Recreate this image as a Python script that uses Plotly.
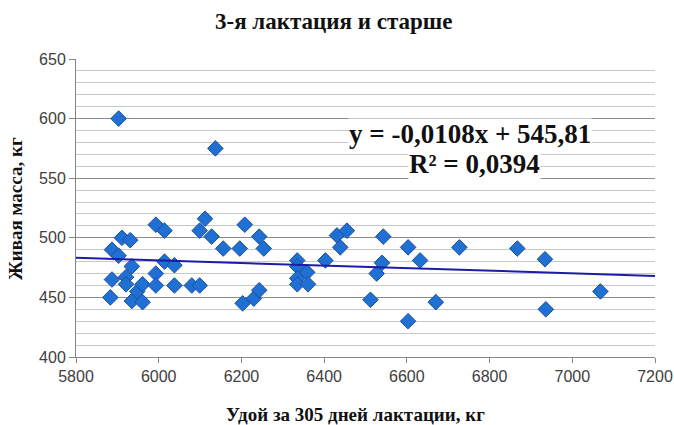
import plotly.graph_objects as go

milk_yield = [5903, 6137, 5887, 5911, 5931, 5903, 5887, 5883, 5921, 5921,
              5935, 5935, 5948, 5961, 5961, 5993, 6014, 5993, 5993, 6014,
              6038, 6038, 6080, 6099, 6099, 6112, 6128, 6156, 6196, 6208,
              6203, 6243, 6254, 6230, 6243, 6335, 6335, 6359, 6335, 6335,
              6361, 6403, 6431, 6455, 6439, 6512, 6543, 6540, 6527, 6603,
              6632, 6603, 6670, 6727, 6867, 6934, 7068, 6936]
live_weight = [600, 575, 490, 500, 498, 485, 465, 450, 467, 461,
               476, 447, 455, 461, 446, 511, 506, 470, 460, 480,
               477, 460, 460, 460, 506, 516, 501, 491, 491, 511,
               445, 501, 491, 449, 456, 481, 476, 471, 466, 461,
               461, 481, 502, 506, 492, 448, 501, 479, 470, 492,
               481, 430, 446, 492, 491, 482, 455, 440]

slope, intercept = -0.0108, 545.81
trend_x = [5800, 7200]
trend_y = [slope * v + intercept for v in trend_x]

x_ticks = [5800, 6000, 6200, 6400, 6600, 6800, 7000, 7200]
y_ticks = [400, 450, 500, 550, 600, 650]

serif = "Liberation Serif"
sans = "Liberation Sans"

W, H = 674, 425
L, R, T, B = 76, 19, 59, 68
pw, ph = W - L - R, H - T - B


def px_x(p):
    return (p - L) / pw


def px_y(p):
    return 1 - (p - T) / ph


fig = go.Figure()
fig.add_trace(go.Scatter(
    x=milk_yield, y=live_weight, mode="markers",
    marker=dict(symbol="diamond", size=12, color="#1f70d2",
                line=dict(color="#1d4f9e", width=1)),
    showlegend=False, cliponaxis=False))
fig.add_trace(go.Scatter(
    x=trend_x, y=trend_y, mode="lines",
    line=dict(color="#1c1ca6", width=2), showlegend=False))

fig.update_layout(
    width=W, height=H,
    margin=dict(l=L, r=R, t=T, b=B),
    paper_bgcolor="white", plot_bgcolor="white",
    font=dict(family=sans, color="#404040", size=16),
    annotations=[
        dict(text="<b>3-я лактация и старше</b>", xref="paper", yref="paper",
             x=px_x(334), y=px_y(22), xanchor="center", yanchor="middle",
             showarrow=False,
             font=dict(family=serif, size=23, color="#111111")),
        dict(text="<b>Удой за 305 дней лактации, кг</b>", xref="paper", yref="paper",
             x=px_x(355), y=px_y(414), xanchor="center", yanchor="middle",
             showarrow=False,
             font=dict(family=serif, size=19, color="#111111")),
        dict(text="<b>Живая масса, кг</b>", xref="paper", yref="paper",
             x=px_x(15), y=px_y(209), xanchor="center", yanchor="middle",
             textangle=-90, showarrow=False,
             font=dict(family=serif, size=19, color="#111111")),
        dict(text="<b>y = -0,0108x + 545,81</b>", xref="paper", yref="paper",
             x=px_x(470), y=px_y(134), xanchor="center", yanchor="middle",
             showarrow=False, bgcolor="white", borderpad=0,
             font=dict(family=serif, size=27, color="#111111")),
        dict(text="<b>R² = 0,0394</b>", xref="paper", yref="paper",
             x=px_x(474), y=px_y(164), xanchor="center", yanchor="middle",
             showarrow=False, bgcolor="white", borderpad=0,
             font=dict(family=serif, size=27, color="#111111")),
    ],
)
fig.update_xaxes(
    range=[5800, 7200], tickvals=x_ticks, ticktext=[str(v) for v in x_ticks],
    showgrid=False, zeroline=False, showline=True, linecolor="#868686",
    linewidth=1, ticks="outside", ticklen=5, tickcolor="#868686",
    automargin=False,
    tickfont=dict(family=sans, size=16, color="#404040"))
fig.update_yaxes(
    range=[400, 650], tickvals=y_ticks, ticktext=[str(v) for v in y_ticks],
    showgrid=True, gridcolor="#8c8c8c", gridwidth=1,
    minor=dict(dtick=10, tick0=400, showgrid=True, gridcolor="#c8c8c8",
               gridwidth=1, ticks=""),
    zeroline=False, showline=True, linecolor="#868686", linewidth=1,
    ticks="outside", ticklen=6, tickcolor="#868686", automargin=False,
    tickfont=dict(family=sans, size=16, color="#404040"))

fig.write_html("out.html", config={"displayModeBar": False},
               post_script="document.body.style.margin='0';document.body.style.padding='0';")
